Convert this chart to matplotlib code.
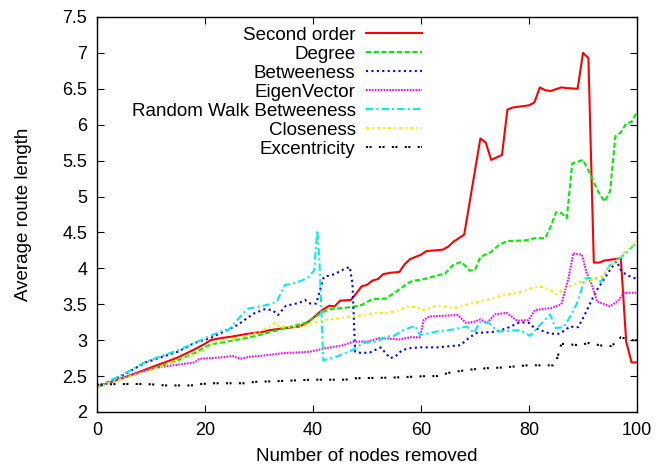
import matplotlib
matplotlib.use("Agg")
import matplotlib.pyplot as plt

plt.rcParams['font.family'] = ['Liberation Sans', 'DejaVu Sans']

# Second order
x_second = [0, 5, 10, 15, 18, 20, 21, 23, 25, 28, 31, 32, 35, 37.5, 39, 40.5, 41.5, 43, 44, 45,
            47, 48, 49, 50, 51, 52, 53, 54.5, 56, 57, 58, 60, 61, 64, 65, 66, 67, 68, 71, 72,
            73, 75, 76, 77, 80, 81, 82, 83, 84, 86, 87, 89, 90, 91, 92, 93, 94, 96, 97, 98, 99, 100]
y_second = [2.35, 2.48, 2.62, 2.76, 2.87, 2.95, 3.0, 3.03, 3.05, 3.09, 3.12, 3.14, 3.17, 3.19, 3.25, 3.34, 3.41, 3.48, 3.47, 3.55,
            3.56, 3.65, 3.75, 3.77, 3.83, 3.85, 3.92, 3.94, 3.95, 4.06, 4.13, 4.19, 4.24, 4.26, 4.30, 4.37, 4.42, 4.47, 5.81, 5.75,
            5.51, 5.58, 6.21, 6.24, 6.27, 6.31, 6.52, 6.48, 6.47, 6.52, 6.51, 6.50, 7.0, 6.93, 4.08, 4.08, 4.11, 4.13, 4.14, 2.98, 2.69, 2.69]

# Degree
x_degree = [0, 5, 10, 15, 18, 21, 27, 30, 33.5, 36.5, 39, 41.5, 43, 47, 49, 51, 53.5, 55.5, 57.5, 58.5,
            60, 62, 64.5, 66, 67.5, 69, 70, 71, 73, 74.5, 76, 79.5, 81, 83, 84, 85, 86, 87, 88, 90,
            91.3, 92.8, 94, 95, 96, 97, 98, 99, 100]
y_degree = [2.35, 2.48, 2.60, 2.72, 2.82, 2.94, 3.02, 3.07, 3.14, 3.20, 3.25, 3.38, 3.43, 3.46, 3.49, 3.57, 3.58, 3.68, 3.79, 3.83,
            3.84, 3.88, 3.93, 4.05, 4.09, 3.97, 3.98, 4.16, 4.23, 4.33, 4.38, 4.39, 4.42, 4.42, 4.58, 4.78, 4.77, 4.70, 5.46, 5.51,
            5.32, 5.07, 4.93, 5.07, 5.84, 5.89, 6.02, 6.04, 6.18]

# Betweeness
x_betw = [0, 5, 9, 15, 18, 21, 26, 29, 31, 32.5, 33.5, 35, 37.5, 38.5, 39.5, 40.6, 41.3, 42, 44, 45.5,
          46.8, 47.3, 47.8, 49, 50.6, 52.5, 54.3, 55.2, 56.5, 58, 60, 63, 67.3, 69, 70.3, 74, 76, 78.3, 80, 81,
          83.9, 85.7, 87.6, 89.1, 90.3, 91.3, 92.5, 94, 95.2, 96.2, 97, 98, 100]
y_betw = [2.35, 2.52, 2.69, 2.84, 2.96, 3.03, 3.21, 3.37, 3.43, 3.42, 3.35, 3.48, 3.52, 3.56, 3.51, 3.51, 3.70, 3.88, 3.92, 3.98,
          4.02, 3.80, 2.84, 2.82, 2.83, 2.90, 2.75, 2.77, 2.86, 2.89, 2.90, 2.90, 2.93, 3.04, 3.10, 3.12, 3.17, 3.25, 3.24, 3.17,
          3.09, 3.09, 3.19, 3.18, 3.35, 3.51, 3.69, 3.86, 4.00, 4.10, 3.98, 3.91, 3.85]

# EigenVector
x_eigen = [0, 5, 9, 12, 18, 19, 22.8, 25.2, 26.5, 28.3, 31.4, 34.5, 37.6, 39.4, 42.5, 45.6, 47.5, 50, 52.4, 56,
           58, 59.8, 60.5, 61.5, 66.8, 68.3, 70, 71, 72.2, 73.7, 75.9, 77.8, 79.9, 81.1, 84.2, 86, 87.3, 88.2, 89.8, 90.7,
           91.6, 92.6, 95, 96.5, 97.6, 100]
y_eigen = [2.35, 2.48, 2.58, 2.63, 2.69, 2.74, 2.76, 2.78, 2.74, 2.77, 2.79, 2.82, 2.83, 2.84, 2.89, 2.93, 2.98, 2.98, 3.03, 3.01,
           3.04, 3.04, 3.28, 3.33, 3.35, 3.24, 3.26, 3.29, 3.24, 3.36, 3.38, 3.27, 3.28, 3.42, 3.45, 3.50, 3.86, 4.21, 4.19, 3.93,
           3.78, 3.54, 3.47, 3.55, 3.66, 3.66]

# Random Walk Betweeness
x_rw = [0, 5, 9, 15, 18, 21, 22.8, 24.3, 26.8, 28, 30.2, 32, 33.3, 34.8, 36, 37.9, 39.2, 40.2, 40.8, 41.2,
        41.9, 44.4, 47.5, 49.3, 51.8, 53.6, 55, 56.7, 58.9, 59.8, 62.9, 66, 68.5, 69.8, 70.9, 72.6, 74.2, 78.3, 80.2, 81.6,
        83.9, 84.9, 86.4, 87.8, 89.1, 90.3, 92.5, 93.3, 94.9, 96.3, 98.1, 100]
y_rw = [2.35, 2.53, 2.70, 2.86, 2.96, 3.06, 3.12, 3.14, 3.35, 3.44, 3.47, 3.50, 3.54, 3.77, 3.78, 3.83, 3.88, 3.97, 4.53, 4.10,
        2.72, 2.77, 2.87, 2.96, 2.98, 3.05, 3.06, 3.14, 3.20, 3.07, 3.12, 3.15, 3.19, 3.10, 3.25, 3.24, 3.12, 3.14, 3.06, 3.18,
        3.36, 3.17, 3.18, 3.35, 3.55, 3.86, 3.86, 3.81, 4.04, 4.11, 4.22, 4.37]

# Closeness
x_close = [0, 5, 10, 15, 19, 22, 24, 27, 29.6, 32, 33, 34, 37.6, 39, 41.6, 44.3, 47.2, 49.3, 51.8, 54,
           56, 57.4, 59.2, 60.4, 62.9, 66.5, 69, 72.2, 75.2, 78.3, 80.2, 82, 83.9, 85.1, 87, 90.1, 93.1, 95, 97.5, 100]
y_close = [2.35, 2.47, 2.58, 2.72, 2.83, 2.97, 3.00, 3.05, 3.10, 3.19, 3.24, 3.18, 3.19, 3.21, 3.28, 3.30, 3.33, 3.35, 3.38, 3.38,
           3.42, 3.47, 3.46, 3.42, 3.48, 3.45, 3.51, 3.56, 3.63, 3.67, 3.72, 3.75, 3.70, 3.64, 3.74, 3.82, 3.86, 4.02, 4.21, 4.38]

# Excentricity
x_exc = [0, 4, 9, 11, 12.6, 17.5, 19.4, 21.2, 27.4, 29.3, 33.6, 39.8, 46, 47.8, 55, 61, 63, 65.4, 69, 72.2,
         75.2, 79.6, 84.5, 85.1, 86, 89.4, 91, 93.8, 95.3, 96.2, 97, 99, 100]
y_exc = [2.38, 2.39, 2.39, 2.38, 2.37, 2.37, 2.39, 2.40, 2.40, 2.42, 2.43, 2.45, 2.45, 2.47, 2.48, 2.50, 2.50, 2.55, 2.59, 2.61,
         2.62, 2.65, 2.65, 2.72, 2.95, 2.93, 2.96, 2.92, 2.92, 2.98, 3.04, 3.00, 3.00]

fig = plt.figure(figsize=(6.58, 4.67), dpi=100)
ax = fig.add_axes([97/658, 55/467, 540/658, 395/467])

lw = 1.5
ax.plot(x_second, y_second, color='#ff0000', lw=lw, label='Second order')
ax.plot(x_degree, y_degree, color='#00ee00', lw=lw, ls=(0, (2.5, 1.2)), label='Degree')
ax.plot(x_betw, y_betw, color='#0000ff', lw=lw, ls=(0, (1, 1.6)), label='Betweeness')
ax.plot(x_eigen, y_eigen, color='#ff00ff', lw=lw, ls=(0, (0.8, 0.6)), label='EigenVector')
ax.plot(x_rw, y_rw, color='#00eeee', lw=lw, ls=(0, (3.5, 1.5, 1, 1.5)), label='Random Walk Betweeness')
ax.plot(x_close, y_close, color='#eeee00', lw=lw, ls=(0, (1.5, 1.5, 0.8, 1.5)), label='Closeness')
ax.plot(x_exc, y_exc, color='#000000', lw=lw, ls=(0, (1, 0.7, 1, 3.5)), label='Excentricity')

ax.set_xlim(0, 100)
ax.set_ylim(2, 7.5)
ax.set_xticks([0, 20, 40, 60, 80, 100])
ax.set_yticks([2, 2.5, 3, 3.5, 4, 4.5, 5, 5.5, 6, 6.5, 7, 7.5])
ax.set_yticklabels(['2', '2.5', '3', '3.5', '4', '4.5', '5', '5.5', '6', '6.5', '7', '7.5'])
ax.tick_params(direction='in', length=5, width=0.8, top=True, right=True, labelsize=13, pad=7)
for s in ax.spines.values():
    s.set_linewidth(1.0)

ax.set_xlabel('Number of nodes removed', fontsize=13.5, labelpad=7)
ax.set_ylabel('Average route length', fontsize=13.5, labelpad=22)

ax.legend(loc='upper right', bbox_to_anchor=(0.602, 0.975), frameon=False, markerfirst=False,
          fontsize=13.5, handlelength=3.0, handletextpad=0.55, labelspacing=0.1, borderpad=0,
          borderaxespad=0)

fig.savefig('out.png', dpi=100)
